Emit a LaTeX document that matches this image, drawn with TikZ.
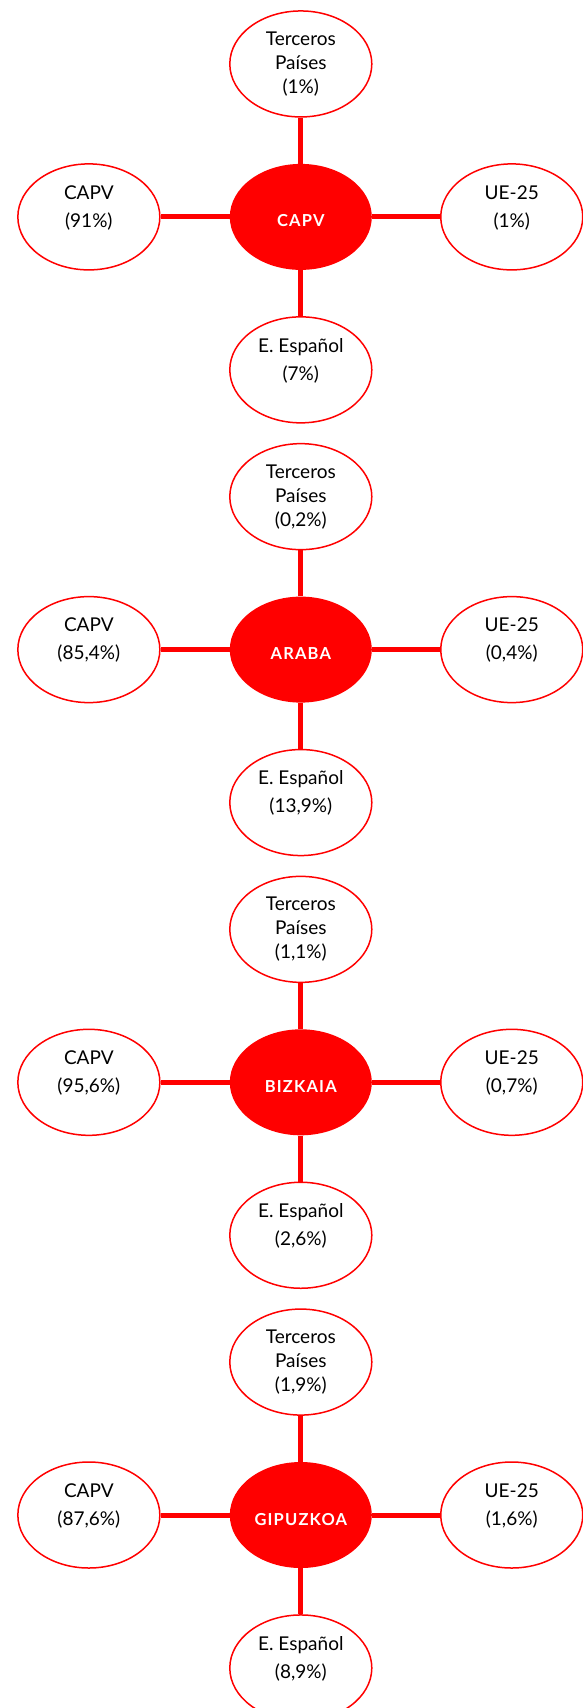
\documentclass[tikz,border=0pt]{standalone}
\usepackage{fontspec}
\setmainfont{Lato}
\newfontfamily\hubfont[LetterSpace=7]{Lato}
\usepackage{tikz}
\usetikzlibrary{shapes.geometric,positioning}

\definecolor{capvred}{RGB}{255,0,0}
% two line texts sit higher and looser, as in the original
\newcommand{\uptext}[1]{\raisebox{5pt}[0pt][0pt]{\fontsize{19}{28}\selectfont
    \begin{tabular}{@{}c@{}}#1\end{tabular}}}
\newcommand{\hubtext}[1]{\raisebox{-10pt}[0pt][0pt]{#1}}

\begin{document}
\begin{tikzpicture}[x=1pt,y=-1pt]
	    \tikzstyle{leaf}=[ellipse,draw=capvred,line width=1.5pt,fill=white,
	        minimum width=142pt,minimum height=106pt,inner sep=0pt,
	        font=\fontsize{19}{24}\selectfont,align=center]
	    \tikzstyle{hub}=[ellipse,fill=capvred,minimum width=142pt,minimum height=106pt,
	        inner sep=0pt,text=white,font=\hubfont\bfseries\fontsize{16.5}{18}\selectfont]
	    \tikzstyle{spoke}=[draw=capvred,line width=5pt]
	    \useasboundingbox (0,0) rectangle (582,1708);

	    % CAPV
	    \node[hub] (capv) at (300.8,216.9) {\hubtext{CAPV}};
	    \node[leaf,above=46pt of capv] (capv-tp) {Terceros\\Países\\(1\%)};
	    \node[leaf,left=69pt of capv] (capv-cv) {\uptext{CAPV\\(91\%)}};
	    \node[leaf,right=68pt of capv] (capv-ue) {\uptext{UE-25\\(1\%)}};
	    \node[leaf,below=46pt of capv] (capv-es) {\uptext{E. Español\\(7\%)}};
	    \draw[spoke] (capv) -- (capv-tp);
	    \draw[spoke] (capv) -- (capv-cv);
	    \draw[spoke] (capv) -- (capv-ue);
	    \draw[spoke] (capv) -- (capv-es);

	    % ARABA
	    \node[hub] (araba) at (300.8,649.6) {\hubtext{ARABA}};
	    \node[leaf,above=46pt of araba] (araba-tp) {Terceros\\Países\\(0,2\%)};
	    \node[leaf,left=69pt of araba] (araba-cv) {\uptext{CAPV\\(85,4\%)}};
	    \node[leaf,right=68pt of araba] (araba-ue) {\uptext{UE-25\\(0,4\%)}};
	    \node[leaf,below=46pt of araba] (araba-es) {\uptext{E. Español\\(13,9\%)}};
	    \draw[spoke] (araba) -- (araba-tp);
	    \draw[spoke] (araba) -- (araba-cv);
	    \draw[spoke] (araba) -- (araba-ue);
	    \draw[spoke] (araba) -- (araba-es);

	    % BIZKAIA
	    \node[hub] (bizkaia) at (300.8,1082.3) {\hubtext{BIZKAIA}};
	    \node[leaf,above=46pt of bizkaia] (bizkaia-tp) {Terceros\\Países\\(1,1\%)};
	    \node[leaf,left=69pt of bizkaia] (bizkaia-cv) {\uptext{CAPV\\(95,6\%)}};
	    \node[leaf,right=68pt of bizkaia] (bizkaia-ue) {\uptext{UE-25\\(0,7\%)}};
	    \node[leaf,below=46pt of bizkaia] (bizkaia-es) {\uptext{E. Español\\(2,6\%)}};
	    \draw[spoke] (bizkaia) -- (bizkaia-tp);
	    \draw[spoke] (bizkaia) -- (bizkaia-cv);
	    \draw[spoke] (bizkaia) -- (bizkaia-ue);
	    \draw[spoke] (bizkaia) -- (bizkaia-es);

	    % GIPUZKOA
	    \node[hub] (gipuzkoa) at (300.8,1515) {\hubtext{GIPUZKOA}};
	    \node[leaf,above=46pt of gipuzkoa] (gipuzkoa-tp) {Terceros\\Países\\(1,9\%)};
	    \node[leaf,left=69pt of gipuzkoa] (gipuzkoa-cv) {\uptext{CAPV\\(87,6\%)}};
	    \node[leaf,right=68pt of gipuzkoa] (gipuzkoa-ue) {\uptext{UE-25\\(1,6\%)}};
	    \node[leaf,below=46pt of gipuzkoa] (gipuzkoa-es) {\uptext{E. Español\\(8,9\%)}};
	    \draw[spoke] (gipuzkoa) -- (gipuzkoa-tp);
	    \draw[spoke] (gipuzkoa) -- (gipuzkoa-cv);
	    \draw[spoke] (gipuzkoa) -- (gipuzkoa-ue);
	    \draw[spoke] (gipuzkoa) -- (gipuzkoa-es);
	\end{tikzpicture}
\end{document}
